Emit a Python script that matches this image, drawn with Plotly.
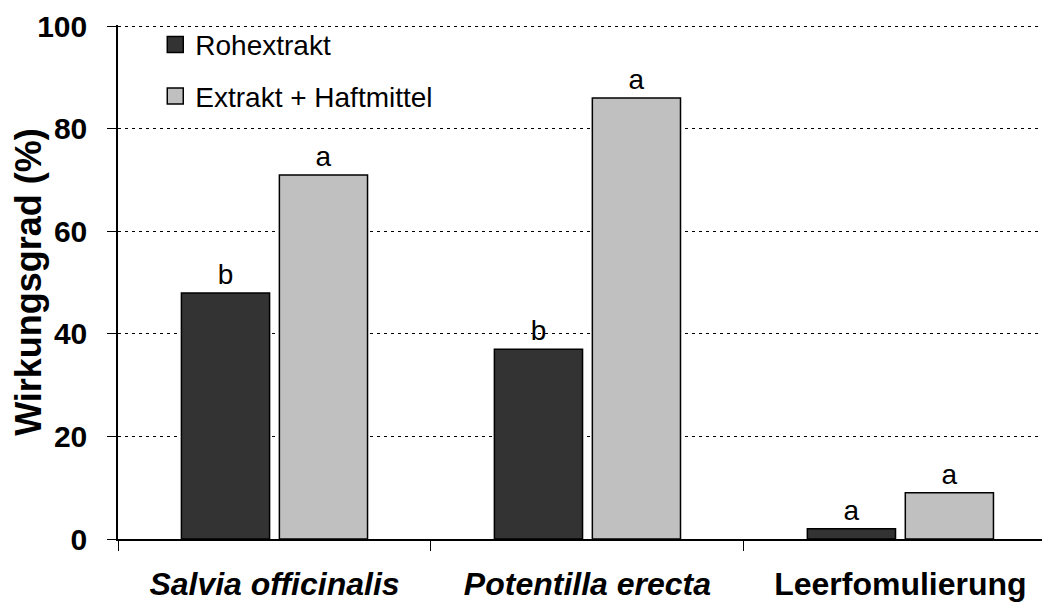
import plotly.graph_objects as go

# Data
categories = ["Salvia officinalis", "Potentilla erecta", "Leerfomulierung"]
cat_labels = ["<b><i>Salvia officinalis</i></b>", "<b><i>Potentilla erecta</i></b>", "<b>Leerfomulierung</b>"]
rohextrakt = [48, 37, 2]
haftmittel = [71, 86, 9]
rohe_letters = ["b", "b", "a"]
haft_letters = ["a", "a", "a"]
y_ticks = [0, 20, 40, 60, 80, 100]

series = [
    ("Rohextrakt", rohextrakt, rohe_letters, "#333333"),
    ("Extrakt + Haftmittel", haftmittel, haft_letters, "#c0c0c0"),
]

fig = go.Figure()
for i, (name, vals, letters, col) in enumerate(series):
    fig.add_trace(go.Bar(
        x=categories, y=vals, name=name, showlegend=False,
        marker=dict(color=col, line=dict(color="#000000", width=1.5)),
        text=letters, textposition="outside", cliponaxis=False,
        textfont=dict(size=28, color="#000000"),
    ))
# legend-only traces so the legend squares are bigger than plotly's bar swatch
for i, (name, vals, letters, col) in enumerate(series):
    fig.add_trace(go.Scatter(
        x=[None], y=[None], mode="markers", name=name, legendgroup="g%d" % i,
        marker=dict(symbol="square", size=16, color=col, line=dict(color="#000000", width=1.5)),
    ))

# page body has an 8px margin, so the figure is a bit smaller than the window
fig.update_layout(
    template=None,
    width=1042, height=597,
    paper_bgcolor="white", plot_bgcolor="white",
    font=dict(family="Liberation Sans, Arial, sans-serif", size=22, color="#000000"),
    margin=dict(l=110, r=0, t=17, b=66),
    barmode="group", bargap=0.374, bargroupgap=0.1,
    showlegend=True,
    legend=dict(x=0.04, y=1.01, xanchor="left", yanchor="top",
                bgcolor="rgba(0,0,0,0)", font=dict(size=28), tracegroupgap=12,
                itemwidth=30),
    xaxis=dict(
        range=[-0.5, 2.478], tickvals=categories, ticktext=cat_labels,
        tickson="boundaries", ticks="outside", ticklen=10, tickcolor="#000000",
        showline=True, linecolor="#000000", linewidth=1.5, automargin=False,
        showgrid=False, tickfont=dict(size=32), ticklabelstandoff=16,
    ),
    yaxis=dict(
        range=[0, 100.25], tickvals=y_ticks,
        ticktext=["<b>%d</b>" % v for v in y_ticks],
        ticks="outside", ticklen=9, tickcolor="#000000",
        showline=True, linecolor="#000000", linewidth=1.5, automargin=False,
        showgrid=True, gridcolor="#000000", griddash="3px,4px", gridwidth=1.3,
        zeroline=False, tickfont=dict(size=30), ticklabelstandoff=14,
        title=dict(text="<b>Wirkungsgrad (%)</b>", font=dict(size=36), standoff=2),
    ),
)

fig.write_html("out.html")
